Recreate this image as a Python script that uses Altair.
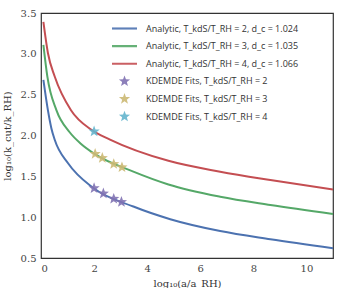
import math
import altair as alt
import pandas as pd

# ---- data ----
series_names = [
    "Analytic, T_kdS/T_RH = 2, d_c = 1.024",
    "Analytic, T_kdS/T_RH = 3, d_c = 1.035",
    "Analytic, T_kdS/T_RH = 4, d_c = 1.066",
    "KDEMDE Fits, T_kdS/T_RH = 2",
    "KDEMDE Fits, T_kdS/T_RH = 3",
    "KDEMDE Fits, T_kdS/T_RH = 4",
]
colors = ["#4C72B0", "#55A868", "#C44E52", "#8172B2", "#CCB974", "#64B5CD"]

blue_x = [0.09, 0.26, 0.39, 0.52, 1.02, 1.96, 3.48, 4.87, 6.75, 8.64, 11.0]
blue_y = [2.68, 2.31, 2.09, 1.945, 1.66, 1.36, 1.13, 0.975, 0.83, 0.73, 0.62]
green_x = [0.09, 0.24, 0.58, 1.08, 1.5, 2.02, 3.48, 4.8, 6.75, 8.64, 11.0]
green_y = [3.11, 2.72, 2.31, 2.04, 1.90, 1.775, 1.557, 1.40, 1.25, 1.15, 1.04]
red_x = [0.09, 0.26, 0.52, 1.13, 1.9, 2.6, 4.8, 6.75, 8.64, 11.0]
red_y = [3.39, 3.01, 2.72, 2.31, 2.07, 1.95, 1.69, 1.557, 1.455, 1.34]

fit2_x = [2.0, 2.35, 2.74, 3.03]
fit2_y = [1.355, 1.29, 1.225, 1.186]
fit3_x = [2.04, 2.31, 2.74, 3.05]
fit3_y = [1.775, 1.725, 1.65, 1.61]
fit4_x = [2.0]
fit4_y = [2.05]

x_ticks = [0, 2, 4, 6, 8, 10]
y_ticks = [0.5, 1.0, 1.5, 2.0, 2.5, 3.0, 3.5]

# ---- tables ----
lines = pd.concat([
    pd.DataFrame({"x": blue_x, "y": blue_y, "series": series_names[0]}),
    pd.DataFrame({"x": green_x, "y": green_y, "series": series_names[1]}),
    pd.DataFrame({"x": red_x, "y": red_y, "series": series_names[2]}),
])
points = pd.concat([
    pd.DataFrame({"x": fit2_x, "y": fit2_y, "series": series_names[3]}),
    pd.DataFrame({"x": fit3_x, "y": fit3_y, "series": series_names[4]}),
    pd.DataFrame({"x": fit4_x, "y": fit4_y, "series": series_names[5]}),
])

# symbol paths (unit box -1..1)
bar_path = "M-1,-0.085H1V0.085H-1Z"
R, r = 0.47, 0.47 * 0.42
pts = []
for i in range(10):
    ang = -math.pi / 2 + i * math.pi / 5
    rad = R if i % 2 == 0 else r
    pts.append(f"{rad*math.cos(ang):.3f},{rad*math.sin(ang):.3f}")
star_path = "M" + "L".join(pts) + "Z"
shapes = [bar_path] * 3 + [star_path] * 3

color_scale = alt.Scale(domain=series_names, range=colors)
shape_scale = alt.Scale(domain=series_names, range=shapes)

xenc = alt.X("x:Q", scale=alt.Scale(domain=[0, 11], nice=False),
             axis=alt.Axis(values=x_ticks, title="log₁₀(a/a_RH)", format="d"))
yenc = alt.Y("y:Q", scale=alt.Scale(domain=[0.5, 3.5], nice=False),
             axis=alt.Axis(values=y_ticks, title="log₁₀(k_cut/k_RH)", format=".1f"))

legend = alt.Legend(
    title=None, orient="none", legendX=71, legendY=8, padding=0,
    symbolSize=625, clipHeight=15, rowPadding=2.6, labelOffset=9,
    labelFont="Open Sans", labelFontSize=9, labelColor="#333333",
    symbolStrokeWidth=0, labelLimit=300,
)

line_layer = alt.Chart(lines).mark_line(strokeWidth=2, interpolate="monotone").encode(
    x=xenc, y=yenc,
    color=alt.Color("series:N", scale=color_scale, legend=legend),
)
point_layer = alt.Chart(points).mark_point(filled=True, size=625, opacity=0.9).encode(
    x="x:Q", y="y:Q",
    color=alt.Color("series:N", scale=color_scale, legend=legend),
    shape=alt.Shape("series:N", scale=shape_scale, legend=legend),
)

chart = alt.layer(line_layer, point_layer).properties(
    width=292, height=245,
    autosize=alt.AutoSizeParams(type="none"),
    padding={"left": 41, "top": 13, "right": 4, "bottom": 30},
).configure_view(
    stroke="#333333", strokeWidth=1.2
).configure_axis(
    grid=False, domain=False, ticks=False,
    labelFont="DejaVu Serif", labelFontSize=10, labelColor="#444444", labelPadding=5,
    titleFont="DejaVu Serif", titleFontSize=10, titleColor="#333333", titleFontWeight="normal",
).configure_axisY(titlePadding=8).configure_axisX(titlePadding=5)

chart.save("out.html", embed_options={"renderer": "svg", "actions": False})
